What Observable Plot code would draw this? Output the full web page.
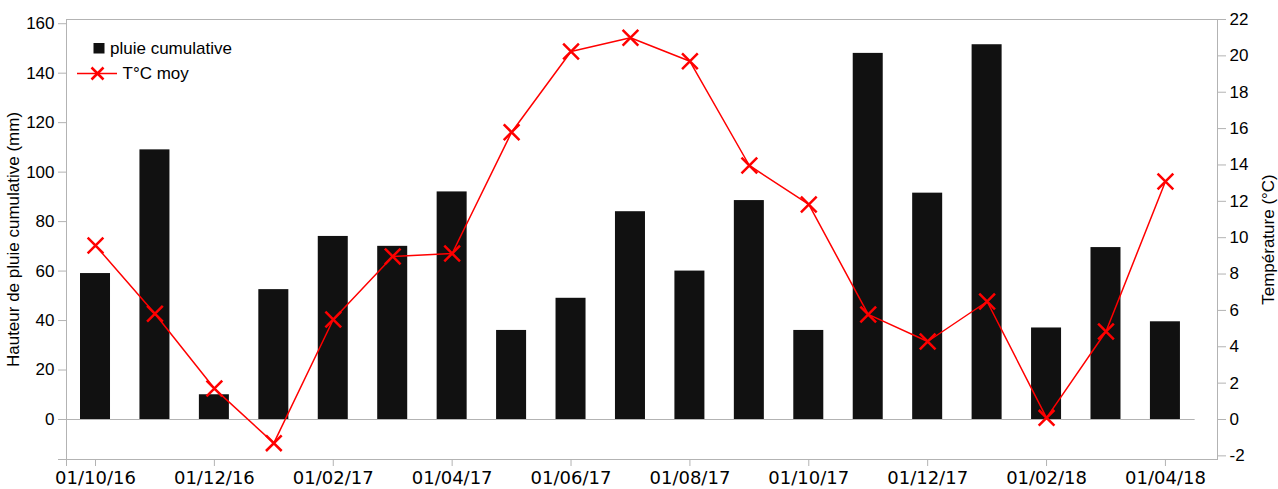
<!DOCTYPE html>
<html>
<head>
<meta charset="utf-8">
<script src="https://cdn.jsdelivr.net/npm/d3@7"></script>
<script src="https://cdn.jsdelivr.net/npm/@observablehq/plot@0.6"></script>
<style>
  html, body { margin: 0; padding: 0; background: #fff; }
  #chart { position: relative; width: 1278px; height: 489px; }
  #legend { position: absolute; left: 0; top: 0; pointer-events: none; }
  #legend text { font-family: "Liberation Sans", Arial, sans-serif; font-size: 17px; fill: #000; }
</style>
</head>
<body>
<div id="chart"></div>
<script>
// Monthly observations, Oct 2016 – Apr 2018
const months = [
  "01/10/16", "01/11/16", "01/12/16", "01/01/17", "01/02/17", "01/03/17",
  "01/04/17", "01/05/17", "01/06/17", "01/07/17", "01/08/17", "01/09/17",
  "01/10/17", "01/11/17", "01/12/17", "01/01/18", "01/02/18", "01/03/18",
  "01/04/18"
];
// cumulative rainfall (mm)
const rain = [59, 109, 10, 52.5, 74, 70, 92, 36, 49, 84, 60, 88.5, 36, 148, 91.5, 151.5, 37, 69.5, 39.5];
// mean temperature (°C)
const temp = [9.57, 5.82, 1.7, -1.3, 5.5, 8.97, 9.13, 15.8, 20.24, 21.0, 19.7, 13.97, 11.83, 5.78, 4.29, 6.49, 0.09, 4.84, 13.09];

// left axis ticks (mm) and right axis ticks (°C)
const rainTicks = [0, 20, 40, 60, 80, 100, 120, 140, 160];
const tempTicks = [-2, 0, 2, 4, 6, 8, 10, 12, 14, 16, 18, 20, 22];
// labelled months on the date axis
const monthTicks = [0, 2, 4, 6, 8, 10, 12, 14, 16, 18];

const rows = months.map((m, i) => ({i, month: m, rain: rain[i], temp: temp[i]}));

// the temperature axis shares the frame with the rainfall axis:
// -2.2..22 °C spans the same height as -16.17..161.7 mm
const tMax = 22, rMax = 161.7;
const k = rMax / tMax;
const yDomain = [-2.2 * k, rMax];
const xDomain = [-0.488, 18.876];

const grey = "#b3b3b3";
const barColor = "#111111";
const red = "#ff0000";

const chart = Plot.plot({
  width: 1278,
  height: 489,
  marginLeft: 66,
  marginRight: 61,
  marginTop: 19,
  marginBottom: 30,
  style: {fontFamily: "Liberation Sans, Arial, sans-serif", fontSize: "17px", color: "#000", background: "#fff"},
  x: {type: "linear", domain: xDomain},
  y: {domain: yDomain},
  marks: [
    Plot.frame({stroke: grey}),
    // zero baseline across the month range
    Plot.ruleY([0], {x1: -0.5, x2: months.length - 0.5, stroke: grey}),
    Plot.rectY(rows, {x1: d => d.i - 0.2524, x2: d => d.i + 0.2524, y1: 0, y2: "rain", fill: barColor}),
    Plot.line(rows, {x: "i", y: d => d.temp * k, stroke: red, strokeWidth: 1.5}),
    Plot.dot(rows, {x: "i", y: d => d.temp * k, symbol: "times", r: 7.2, stroke: red, strokeWidth: 2.5}),
    Plot.axisY(rainTicks, {
      anchor: "left", tickSize: 8, tickPadding: 4, stroke: grey,
      label: "Hauteur de pluie cumulative (mm)", labelAnchor: "center", labelArrow: "none", labelOffset: 60,
      fontSize: 17
    }),
    Plot.axisY([yDomain[0]], {anchor: "left", tickSize: 8, stroke: grey, tickFormat: () => "", label: null}),
    Plot.axisY(tempTicks.map(t => t * k), {
      anchor: "right", tickSize: 8, tickPadding: 4, stroke: grey,
      tickFormat: v => String(Math.round(v / k)),
      label: "Température (°C)", labelAnchor: "center", labelArrow: "none", labelOffset: 56,
      fontSize: 17
    }),
    Plot.axisX(monthTicks, {
      anchor: "bottom", tickSize: 7, tickPadding: 5, stroke: grey,
      tickFormat: i => months[i], label: null,
      fontFamily: "DejaVu Sans, sans-serif", fontSize: 18
    }),
    Plot.axisX([xDomain[0]], {anchor: "bottom", tickSize: 7, stroke: grey, tickFormat: () => "", label: null})
  ]
});

const holder = document.getElementById("chart");
holder.appendChild(chart);

// legend inside the plot area, top-left
const ns = "http://www.w3.org/2000/svg";
const legend = document.createElementNS(ns, "svg");
legend.setAttribute("id", "legend");
legend.setAttribute("width", 260);
legend.setAttribute("height", 100);
legend.innerHTML = `
  <rect x="93.5" y="43" width="11" height="10.5" fill="${barColor}"></rect>
  <text x="110" y="48.5" dominant-baseline="central">pluie cumulative</text>
  <line x1="77" x2="117" y1="73.5" y2="73.5" stroke="${red}" stroke-width="1.5"></line>
  <path d="M91.5,67.5L103.5,79.5M91.5,79.5L103.5,67.5" stroke="${red}" stroke-width="2.5"></path>
  <text x="122.5" y="73.5" dominant-baseline="central">T°C moy</text>
`;
holder.appendChild(legend);
</script>
</body>
</html>
